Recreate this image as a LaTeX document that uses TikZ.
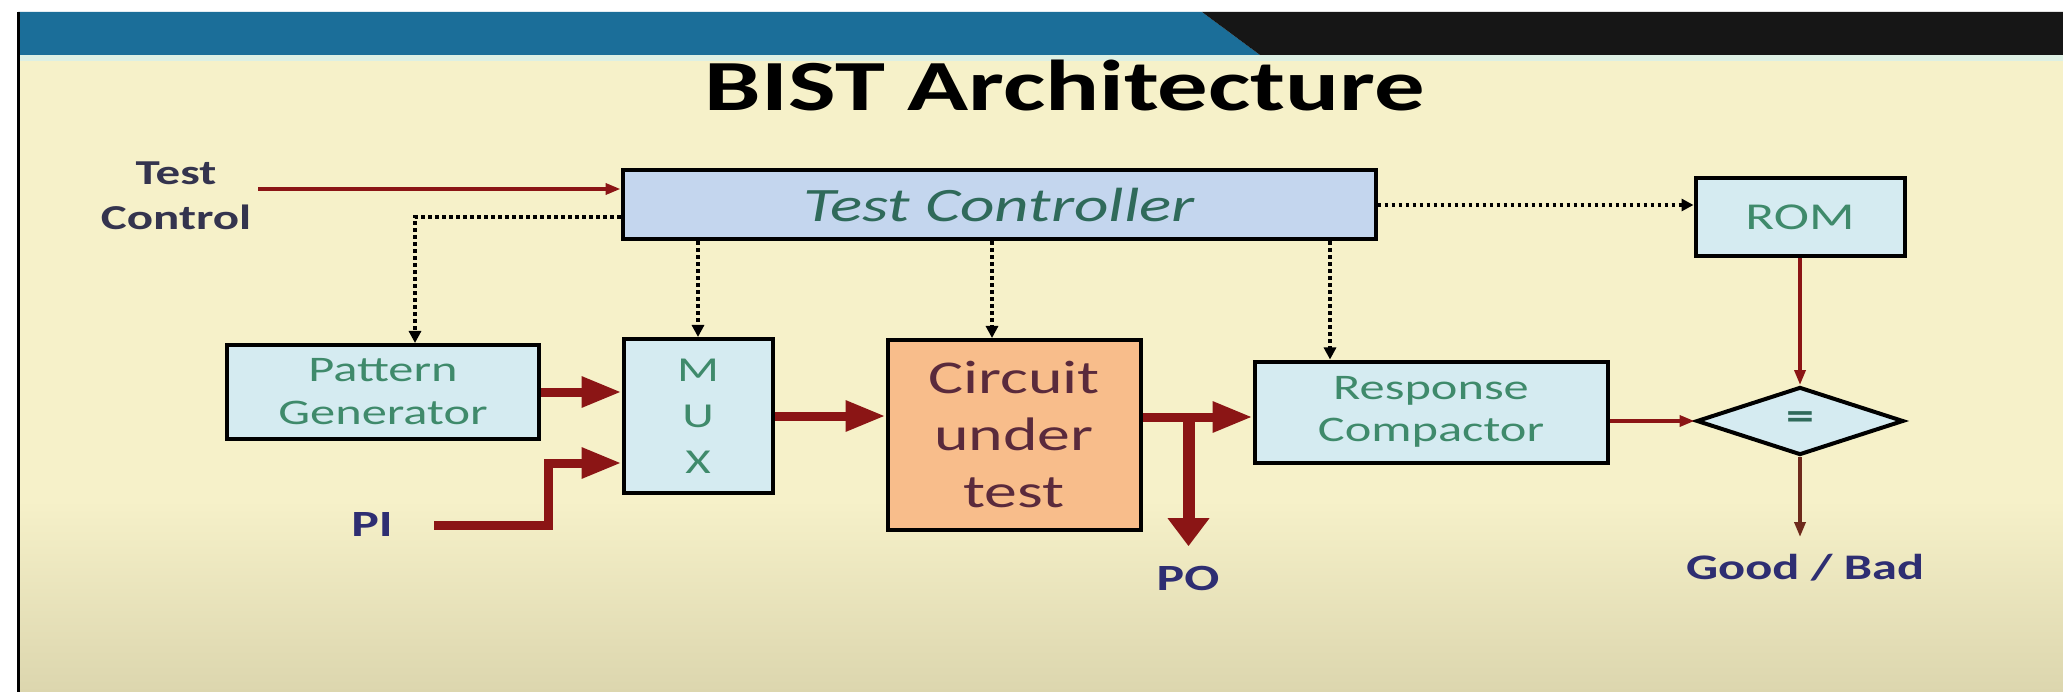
\documentclass[tikz,border=0pt]{standalone}
\usepackage{fontspec}
\setmainfont{Carlito}[FakeStretch=1.4]
\usetikzlibrary{arrows.meta}
\usetikzlibrary{shapes.geometric}
\usetikzlibrary{calc}

\definecolor{bandblue}{HTML}{1B6E99}
\definecolor{bandblack}{HTML}{161616}
\definecolor{bandline}{HTML}{DDF0E4}
\definecolor{slidecream}{HTML}{F6F1C9}
\definecolor{slidefoot}{HTML}{DCD6AE}
\definecolor{blockblue}{HTML}{D5EBF1}
\definecolor{ctrlblue}{HTML}{C4D6EE}
\definecolor{cutorange}{HTML}{F8BD8B}
\definecolor{blockgreen}{HTML}{3F8A6B}
\definecolor{ctrlgreen}{HTML}{2F6A5A}
\definecolor{cuttext}{HTML}{5A2A3C}
\definecolor{labelnavy}{HTML}{2E2E72}
\definecolor{labelgrey}{HTML}{34344E}
\definecolor{wirered}{HTML}{8B1515}
\definecolor{wirebrown}{HTML}{6E2A1C}

\begin{document}
\begin{tikzpicture}[x=1pt,y=-1pt,
    block/.style={draw=black,line width=4pt,fill=blockblue,text=blockgreen,align=center,inner sep=0pt},
    lbl/.style={text=labelnavy,font=\bfseries\fontsize{37}{44}\selectfont,align=center},
    bus/.style={draw=wirered,line width=9pt,-{Triangle[length=40pt,width=29pt]}},
    busdown/.style={draw=wirered,line width=12pt,-{Triangle[length=28pt,width=40pt]}},
    wire/.style={draw=wirered,line width=3.5pt,-{Triangle[length=15pt,width=11pt]}},
    ctrl/.style={draw=black,line width=3.5pt,dash pattern=on 3.5pt off 3.5pt,-{Triangle[length=12pt,width=12pt]}}]

  % slide background
  \useasboundingbox (0,0) rectangle (2063,692);
  \fill[white] (0,0) rectangle (2063,692);
  \fill[slidecream] (18,61) rectangle (2063,692);
  \shade[top color=slidecream,bottom color=slidefoot] (18,500) rectangle (2063,692);
  \fill[bandblue] (18,12) -- (1202,12) -- (1260,55) -- (18,55) -- cycle;
  \fill[bandblack] (1202,12) -- (2063,12) -- (2063,55) -- (1260,55) -- cycle;
  \fill[bandline] (18,55) rectangle (2063,61);
  \draw[black,line width=3pt] (18,12) -- (18,692);

  \node[font=\bfseries\fontsize{72}{80}\selectfont] (title) at (1065,86) {BIST Architecture};

  % blocks
  \node[block,fill=ctrlblue,text=ctrlgreen,font=\itshape\fontsize{48}{52}\selectfont,
        minimum width=753pt,minimum height=69pt] (tc) at (999,205) {Test Controller};
  \node[block,minimum width=209pt,minimum height=78pt,font=\fontsize{38}{44}\selectfont] (rom) at (1800,217) {ROM};
  \node[block,minimum width=312pt,minimum height=94pt,font=\fontsize{36}{43}\selectfont] (pg) at (383,392) {Pattern\\Generator};
  \node[block,minimum width=149pt,minimum height=154pt,font=\fontsize{35}{46}\selectfont] (mux) at (698,416) {M\\U\\X};
  \node[block,fill=cutorange,text=cuttext,minimum width=253pt,minimum height=190pt,
        font=\fontsize{47}{57}\selectfont] (cut) at (1014,435) {Circuit\\under\\test};
  \node[block,minimum width=353pt,minimum height=101pt,font=\fontsize{36}{42}\selectfont] (rc) at (1431,412) {Response\\Compactor};
  \node[block,diamond,minimum width=207pt,minimum height=68pt,text=ctrlgreen,
        font=\bfseries\fontsize{40}{44}\selectfont] (cmp) at (1800,421) {=};

  % labels
  \node[lbl,text=labelgrey,font=\bfseries\fontsize{35}{45}\selectfont] (testin) at (176,196) {Test\\Control};
  \node[lbl] (pi) at (372,525) {PI};
  \node[lbl] (po) at (1188,578) {PO};
  \node[lbl,font=\bfseries\fontsize{36}{40}\selectfont] (gb) at (1805,568) {Good / Bad};

  % control lines
  \coordinate (tcin) at (258,189);
  \draw[wire] (tcin) -- (tcin -| tc.west);
  \draw[ctrl] ([yshift=-12pt]tc.west) -| ([xshift=32pt]pg.north);
  \draw[ctrl] (tc.south -| mux.north) -- (mux.north);
  \draw[ctrl] ([xshift=-22pt]cut.north |- tc.south) -- ([xshift=-22pt]cut.north);
  \draw[ctrl] ([xshift=-101pt]rc.north |- tc.south) -- ([xshift=-101pt]rc.north);
  \draw[ctrl] (tc.east) -- (tc.east -| rom.west);

  % data path
  \draw[bus] (pg.east) -- (pg.east -| mux.west);
  \coordinate (pibend) at (548,463);
  \draw[bus] ([xshift=38pt]pi.east) -| (pibend) -- (pibend -| mux.west);
  \draw[bus] (mux.east) -- (mux.east -| cut.west);
  \coordinate (split) at ([xshift=46pt,yshift=-5pt]cut.east |- rc.west);
  \draw[bus] ([yshift=-5pt]cut.east |- rc.west) -- ([yshift=-5pt]rc.west);
  \draw[busdown] (split) -- ([yshift=16pt]po.north -| split);
  \draw[wire] (rc.east |- cmp.west) -- (cmp.west);
  \draw[wire] (rom.south) -- (cmp.north);
  \draw[wire,draw=wirebrown] (cmp.south) -- ([yshift=14pt]gb.north -| cmp.south);
\end{tikzpicture}
\end{document}
